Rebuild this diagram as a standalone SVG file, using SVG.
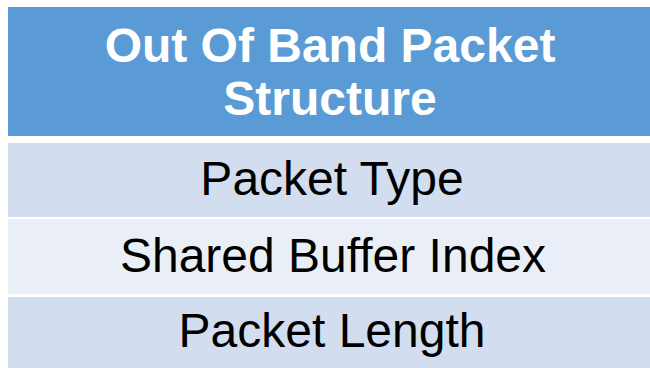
<svg xmlns="http://www.w3.org/2000/svg" width="650" height="368" viewBox="0 0 650 368">
<style>
.hd{fill:#5B9BD5}
.r1{fill:#D2DEEF}
.r2{fill:#EAEFF7}
.ht{font-family:"Liberation Sans",Arial,sans-serif;font-weight:bold;font-size:48px;fill:#FFFFFF;text-anchor:middle}
.ct{font-family:"Liberation Sans",Arial,sans-serif;font-size:48px;fill:#000000;text-anchor:middle}
</style>
<rect x="0" y="0" width="650" height="368" fill="#FFFFFF"/>
<g id="header">
<rect class="hd" x="8" y="7" width="642" height="129"/>
<text class="ht" x="330" y="62">Out Of Band Packet</text>
<text class="ht" x="330" y="115">Structure</text>
</g>
<g id="row-packet-type">
<rect class="r1" x="8" y="143" width="642" height="74"/>
<text class="ct" x="332" y="195">Packet Type</text>
</g>
<g id="row-shared-buffer-index">
<rect class="r2" x="8" y="219" width="642" height="75"/>
<text class="ct" x="333" y="272">Shared Buffer Index</text>
</g>
<g id="row-packet-length">
<rect class="r1" x="8" y="297" width="642" height="71"/>
<text class="ct" x="332" y="347">Packet Length</text>
</g>
<g id="connectors"/>
</svg>
